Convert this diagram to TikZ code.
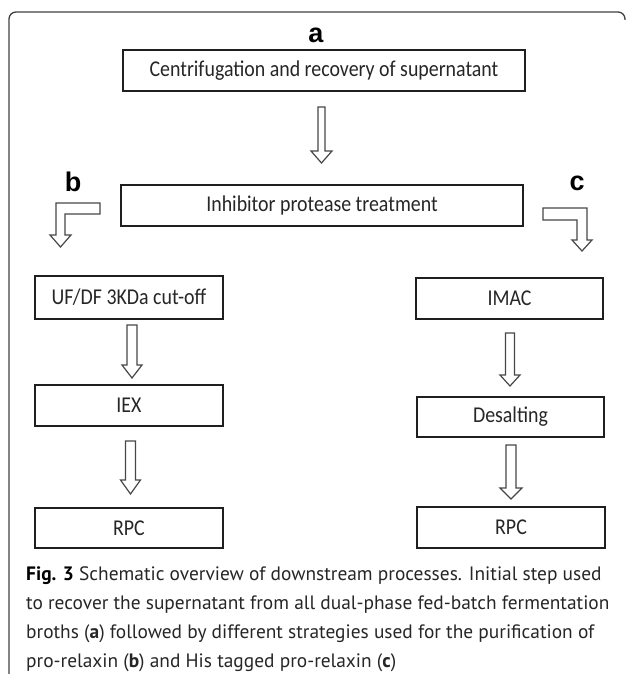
\documentclass[tikz,border=0pt]{standalone}
\usepackage{fontspec}
\setmainfont{PT Sans}
\newfontfamily\boxfont[FakeStretch=0.88]{Carlito}
\newfontfamily\labfont{Liberation Sans}
\begin{document}
\begin{tikzpicture}[x=1pt,y=-1pt,
  box/.style={draw=black!88, line width=1.7pt, inner sep=0pt, text=black!85,
    font=\boxfont\fontsize{22.6}{25}\selectfont},
  arrowline/.style={draw=black!72, line width=1.2pt, line join=miter},
  lab/.style={font=\labfont\bfseries\fontsize{27}{29}\selectfont, anchor=base, inner sep=0pt},
  captext/.style={anchor=base west, inner sep=0pt, text=black!85, font=\fontsize{19.4}{23}\selectfont},
  border/.style={draw=black!75, line width=1.3pt, rounded corners=7pt},
  pics/bdown/.style n args={4}{code={
    \draw[arrowline] (-#1,0) -- (#1,0) -- (#1,#3) -- (#2,#3) -- (0,#4) -- (-#2,#3) -- (-#1,#3) -- cycle;}}
]
\useasboundingbox (0,0) rectangle (627,674);
% frame
\draw[border] (9,674) -- (9,12) -- (625,12) -- (625,20);

% boxes
\node[box, minimum width=402pt, minimum height=41pt] (cent) at (324,70.5) {Centrifugation and recovery of supernatant};
\node[box, minimum width=402pt, minimum height=41pt] (inh) at (322,205.5) {Inhibitor protease treatment};
\node[box, minimum width=188pt, minimum height=43pt] (uf) at (129,297.5) {UF/DF 3KDa cut-off};
\node[box, minimum width=188pt, minimum height=41pt] (iex) at (129,405.5) {IEX};
\node[box, minimum width=188pt, minimum height=40pt] (rpcl) at (129,528) {RPC};
\node[box, minimum width=187pt, minimum height=41pt] (imac) at (509.5,298.5) {IMAC};
\node[box, minimum width=187pt, minimum height=40pt] (desalt) at (510.5,417) {Desalting};
\node[box, minimum width=188pt, minimum height=41pt] (rpcr) at (511,527.5) {RPC};

% labels
\node[lab] (la) at (316,43) {a};
\node[lab] (lb) at (73,191) {b};
\node[lab] (lc) at (577,190) {c};

% block arrows
\pic at (321.5,107) {bdown={3.5}{10.5}{44}{56}};
\pic at (132,325) {bdown={5}{10}{40}{53}};
\pic at (130.5,441) {bdown={5}{10}{39}{53}};
\pic at (510,333) {bdown={4.5}{10}{42}{53}};
\pic at (511,445) {bdown={5}{11}{43}{54}};

% bent arrows
\draw[arrowline] (56,203) -- (100,203) -- (100,214) -- (65,214) -- (65,235)
  -- (71,235) -- (60.5,247) -- (50,235) -- (56,235) -- cycle;
\draw[arrowline] (543,208) -- (587,208) -- (587,240) -- (592,240) -- (582,251)
  -- (572,240) -- (577,240) -- (577,220) -- (543,220) -- cycle;

% caption
\node[captext] (c1) at (26,580) {\textbf{\color{black}Fig. 3} Schematic overview of downstream processes. Initial step used};
\node[captext] (c2) at (26,609) {to recover the supernatant from all dual-phase fed-batch fermentation};
\node[captext] (c3) at (26,638) {broths (\textbf{a}) followed by different strategies used for the purification of};
\node[captext] (c4) at (26,667) {pro-relaxin (\textbf{b}) and His tagged pro-relaxin (\textbf{c})};
\end{tikzpicture}
\end{document}
